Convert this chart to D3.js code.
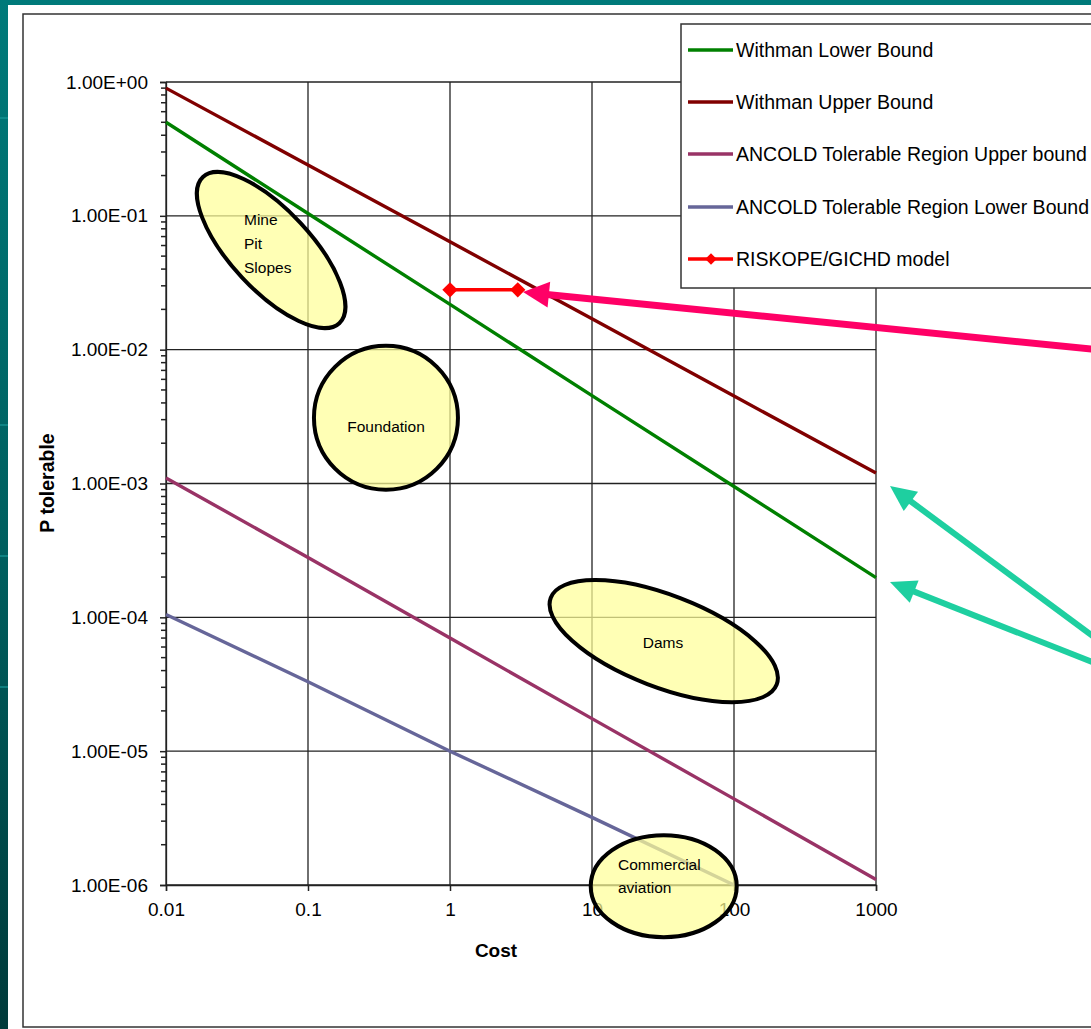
<!DOCTYPE html>
<html>
<head>
<meta charset="utf-8">
<script src="https://cdn.jsdelivr.net/npm/d3@7"></script>
<style>
  html, body { margin: 0; padding: 0; overflow: hidden; background: #006b6b; }
  svg { display: block; }
  text { font-family: "Liberation Sans", Arial, sans-serif; fill: #000; }
</style>
</head>
<body>
<svg id="chart" width="1091" height="1029"></svg>
<script>
// ---- Data ----
const costs = [0.01, 0.1, 1, 10, 100, 1000];
const withmanLower = [0.5, 0.104, 0.0218, 0.00454, 0.00095, 0.000198];
const withmanUpper = [0.9, 0.24, 0.064, 0.017, 0.0045, 0.0012];
const ancoldUpper = [0.0011, 0.00028, 0.00007, 0.0000175, 0.0000044, 0.0000011];
const ancoldLowerCosts = [0.01, 0.1, 1, 10, 100];
const ancoldLower = [0.000105, 0.000033, 0.00001, 0.0000032, 0.000001];
const modelCosts = [1, 3];
const modelP = [0.028, 0.028];

const seriesNames = ["Withman Lower Bound", "Withman Upper Bound",
  "ANCOLD Tolerable Region Upper bound", "ANCOLD Tolerable Region Lower Bound",
  "RISKOPE/GICHD model"];
const seriesColors = ["#008000", "#800000", "#993366", "#666699", "#ff0000"];

const xTickValues = [0.01, 0.1, 1, 10, 100, 1000];
const xTickLabels = ["0.01", "0.1", "1", "10", "100", "1000"];
const yTickValues = [1e-6, 1e-5, 1e-4, 1e-3, 1e-2, 1e-1, 1];
const yTickLabels = ["1.00E-06", "1.00E-05", "1.00E-04", "1.00E-03", "1.00E-02", "1.00E-01", "1.00E+00"];

const xTitle = "Cost";
const yTitle = "P tolerable";

// Annotation regions (centre in data units)
const regionNames = [["Mine", "Pit", "Slopes"], ["Foundation"], ["Dams"], ["Commercial", "aviation"]];
const regionCost = [0.055, 0.354, 32, 32];
const regionP = [0.0555, 0.0031, 0.0000664, 0.00000098];

// ---- Drawing ----
const svg = d3.select("#chart");
const W = 1091, H = 1029;

// background
const defs = svg.append("defs");
const grad = defs.append("linearGradient").attr("id", "bg").attr("x1", 0).attr("y1", 0).attr("x2", 0).attr("y2", 1);
grad.append("stop").attr("offset", "0%").attr("stop-color", "#007a7a");
grad.append("stop").attr("offset", "55%").attr("stop-color", "#005e5e");
grad.append("stop").attr("offset", "100%").attr("stop-color", "#003a3a");
svg.append("rect").attr("width", W).attr("height", H).attr("fill", "url(#bg)");
[425, 556, 687, 118].forEach(yy => {
  svg.append("line").attr("x1", 0).attr("x2", 8).attr("y1", yy).attr("y2", yy)
    .attr("stroke", "#1a9a9a").attr("stroke-width", 2).attr("opacity", 0.6);
});

// white panel and chart area border
svg.append("rect").attr("x", 8).attr("y", 5).attr("width", W).attr("height", H).attr("fill", "#ffffff");
svg.append("rect").attr("x", 23).attr("y", 14).attr("width", W + 20).attr("height", 1013)
  .attr("fill", "none").attr("stroke", "#333").attr("stroke-width", 1.5);

const x = d3.scaleLog().domain([0.01, 1000]).range([166, 876]);
const y = d3.scaleLog().domain([1e-6, 1]).range([885, 82]);

// gridlines
const grid = svg.append("g");
grid.selectAll("line.v").data(xTickValues).join("line")
  .attr("x1", d => x(d)).attr("x2", d => x(d)).attr("y1", y(1)).attr("y2", y(1e-6))
  .attr("stroke", "#222").attr("stroke-width", 1.3);
grid.selectAll("line.h").data(yTickValues).join("line")
  .attr("x1", x(0.01)).attr("x2", x(1000)).attr("y1", d => y(d)).attr("y2", d => y(d))
  .attr("stroke", "#222").attr("stroke-width", 1.3);

// y axis with minor ticks
const minorY = [];
for (let e = -6; e < 0; e++) for (let m = 2; m <= 9; m++) minorY.push(m * Math.pow(10, e));
const yAxisG = svg.append("g").attr("transform", `translate(${x(0.01)},0)`);
yAxisG.call(d3.axisLeft(y).tickValues(yTickValues).tickFormat((d, i) => yTickLabels[i]).tickSize(6).tickPadding(12));
yAxisG.selectAll(".tick line").attr("stroke", "#222").attr("stroke-width", 1.5);
yAxisG.select(".domain").attr("stroke", "#222").attr("stroke-width", 1.3);
yAxisG.selectAll("text").attr("font-size", 19).attr("font-family", "Liberation Sans, Arial, sans-serif").attr("fill", "#222");
yAxisG.selectAll("line.minor").data(minorY).join("line").attr("class", "minor")
  .attr("x1", -5).attr("x2", 0).attr("y1", d => y(d)).attr("y2", d => y(d))
  .attr("stroke", "#222").attr("stroke-width", 1.5);

// x axis
const xAxisG = svg.append("g").attr("transform", `translate(0,${y(1e-6)})`);
xAxisG.call(d3.axisBottom(x).tickValues(xTickValues).tickFormat((d, i) => xTickLabels[i]).tickSize(6).tickPadding(12));
xAxisG.selectAll(".tick line").attr("stroke", "#222").attr("stroke-width", 1.5);
xAxisG.select(".domain").attr("stroke", "#222").attr("stroke-width", 1.3);
xAxisG.selectAll("text").attr("font-size", 19).attr("font-family", "Liberation Sans, Arial, sans-serif").attr("fill", "#222");

// axis titles
svg.append("text").attr("x", 496).attr("y", 957).attr("text-anchor", "middle")
  .attr("font-size", 19).attr("font-weight", "bold").text(xTitle);
svg.append("text").attr("transform", "translate(54,483) rotate(-90)").attr("text-anchor", "middle")
  .attr("font-size", 19.5).attr("font-weight", "bold").text(yTitle);

// series lines
const line = d3.line().x(d => x(d[0])).y(d => y(d[1]));
const seriesData = [
  d3.zip(costs, withmanLower),
  d3.zip(costs, withmanUpper),
  d3.zip(costs, ancoldUpper),
  d3.zip(ancoldLowerCosts, ancoldLower),
  d3.zip(modelCosts, modelP)
];
const plotG = svg.append("g");
seriesData.forEach((data, i) => {
  plotG.append("path").datum(data).attr("d", line).attr("fill", "none")
    .attr("stroke", seriesColors[i]).attr("stroke-width", 3.4);
});
const diamond = d3.symbol().type(d3.symbolDiamond2).size(150);
plotG.selectAll("path.mk").data(seriesData[4]).join("path").attr("class", "mk")
  .attr("d", diamond).attr("transform", d => `translate(${x(d[0])},${y(d[1])})`)
  .attr("fill", "#ff0000");

// legend
const lg = svg.append("g");
lg.append("rect").attr("x", 681).attr("y", 24).attr("width", 430).attr("height", 264)
  .attr("fill", "#fff").attr("stroke", "#333").attr("stroke-width", 1.5);
const legY = [50, 102, 154, 207, 259];
seriesNames.forEach((name, i) => {
  lg.append("line").attr("x1", 688).attr("x2", 733).attr("y1", legY[i]).attr("y2", legY[i])
    .attr("stroke", seriesColors[i]).attr("stroke-width", 3.5);
  if (i === 4) {
    lg.append("path").attr("d", diamond).attr("fill", "#ff0000")
      .attr("transform", `translate(711,${legY[i]}) scale(0.75)`);
  }
  lg.append("text").attr("x", 736).attr("y", legY[i]).attr("dy", "0.36em")
    .attr("font-size", 19.5).attr("fill", "#111").text(name);
});

// annotation ellipses
const ellG = svg.append("g");
const ellShape = [
  {rx: 100, ry: 40, rot: 47},
  {rx: 72, ry: 72, rot: 0},
  {rx: 121, ry: 46, rot: 21},
  {rx: 73, ry: 51, rot: 0}
];
regionNames.forEach((lines, i) => {
  const cx = x(regionCost[i]), cy = y(regionP[i]);
  const s = ellShape[i];
  ellG.append("ellipse").attr("cx", 0).attr("cy", 0).attr("rx", s.rx).attr("ry", s.ry)
    .attr("transform", `translate(${cx},${cy}) rotate(${s.rot})`)
    .attr("fill", "#ffff99").attr("fill-opacity", 0.72)
    .attr("stroke", "#000").attr("stroke-width", 4);
});
// labels
const labelPos = [
  {x: 244, y: 219, dy: 24, anchor: "start"},
  {x: 386, y: 426, dy: 0, anchor: "middle"},
  {x: 663, y: 642, dy: 0, anchor: "middle"},
  {x: 618, y: 864, dy: 23, anchor: "start"}
];
regionNames.forEach((lines, i) => {
  const p = labelPos[i];
  lines.forEach((t, j) => {
    ellG.append("text").attr("x", p.x).attr("y", p.y + j * p.dy).attr("dy", "0.36em")
      .attr("text-anchor", p.anchor).attr("font-size", 15.5).attr("fill", "#111").text(t);
  });
});

// arrows
function arrow(x0, y0, x1, y1, color, w, hl, hw) {
  const ang = Math.atan2(y1 - y0, x1 - x0);
  const bx = x1 - hl * Math.cos(ang), by = y1 - hl * Math.sin(ang);
  svg.append("line").attr("x1", x0).attr("y1", y0).attr("x2", bx + 2 * Math.cos(ang)).attr("y2", by + 2 * Math.sin(ang))
    .attr("stroke", color).attr("stroke-width", w);
  const px = -Math.sin(ang), py = Math.cos(ang);
  svg.append("polygon").attr("points", [
    [x1, y1], [bx + px * hw, by + py * hw], [bx - px * hw, by - py * hw]
  ].map(p => p.join(",")).join(" ")).attr("fill", color);
}
arrow(1120, 352, 523, 292, "#ff0066", 7, 26, 13);
arrow(1140, 671, 890, 486, "#1ecfa0", 6, 26, 12);
arrow(1140, 681, 890, 582, "#1ecfa0", 6, 26, 12);
</script>
</body>
</html>
